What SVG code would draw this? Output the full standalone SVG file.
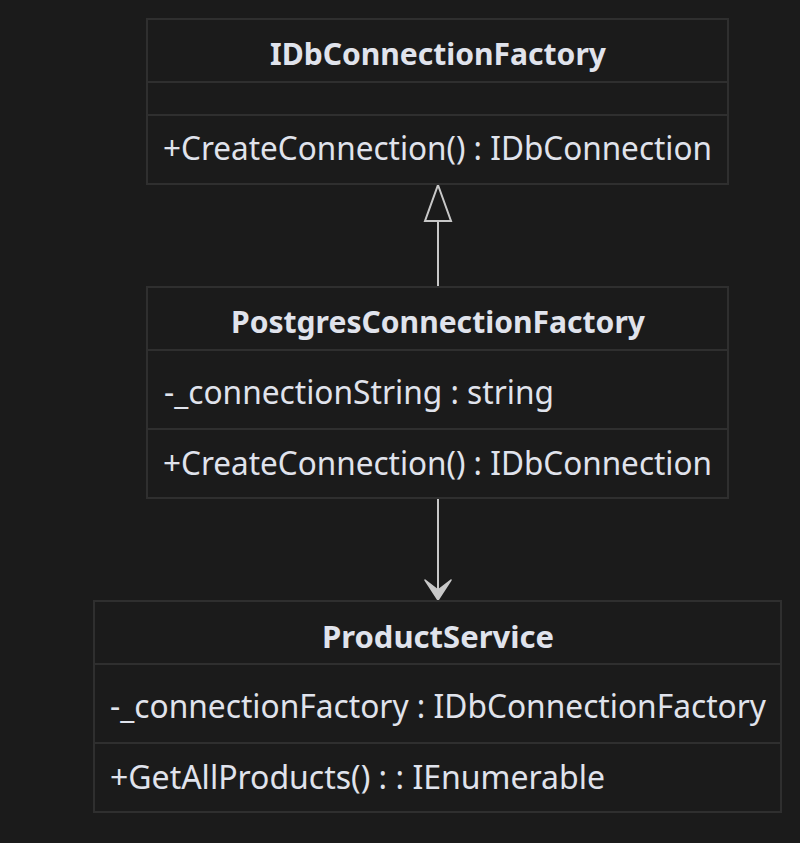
<svg xmlns="http://www.w3.org/2000/svg" width="800" height="843" viewBox="0 0 800 843">
<defs>
<style>
.box{fill:#1b1b1b;stroke:#2f2f2f;stroke-width:2}
.div{stroke:#2f2f2f;stroke-width:2}
.t{fill:#e0e3ec;font-family:"Noto Sans","Liberation Sans",sans-serif;font-size:32px}
.h{font-weight:bold;font-size:30px}
.edge{stroke:#c8c8c8;stroke-width:2;fill:none}
</style>
<marker id="tri" markerUnits="userSpaceOnUse" markerWidth="30" markerHeight="40" refX="13" refY="1" orient="auto-start-reverse" viewBox="0 0 26 40">
<path d="M13,1 L25,36 L1,36 Z" fill="#1b1b1b" stroke="#c8c8c8" stroke-width="2"/>
</marker>
</defs>
<rect width="800" height="843" fill="#1b1b1b"/>
<g id="connectors">
<line class="edge" x1="438" y1="287" x2="438" y2="221"/>
<path d="M438,185 L451,221 L425,221 Z" fill="#1b1b1b" stroke="#c8c8c8" stroke-width="2"/>
<line class="edge" x1="438" y1="498" x2="438" y2="598"/>
<path d="M425,580 L438,600 L451,580 L438,590 Z" fill="#c8c8c8" stroke="#c8c8c8" stroke-width="1.5" stroke-linejoin="round"/>
</g>
<g id="IDbConnectionFactory">
<rect class="box" x="147" y="19" width="581" height="165"/>
<line class="div" x1="147" y1="82" x2="728" y2="82"/>
<line class="div" x1="147" y1="115" x2="728" y2="115"/>
<text class="t h" x="438" y="65" text-anchor="middle" textLength="336" lengthAdjust="spacingAndGlyphs">IDbConnectionFactory</text>
<text class="t" x="163" y="160" textLength="549" lengthAdjust="spacingAndGlyphs">+CreateConnection() : IDbConnection</text>
</g>
<g id="PostgresConnectionFactory">
<rect class="box" x="147" y="287" width="581" height="211"/>
<line class="div" x1="147" y1="350" x2="728" y2="350"/>
<line class="div" x1="147" y1="429" x2="728" y2="429"/>
<text class="t h" x="438" y="333" text-anchor="middle" textLength="414" lengthAdjust="spacingAndGlyphs">PostgresConnectionFactory</text>
<text class="t" x="164" y="404" textLength="390" lengthAdjust="spacingAndGlyphs">-_connectionString : string</text>
<text class="t" x="163" y="475" textLength="549" lengthAdjust="spacingAndGlyphs">+CreateConnection() : IDbConnection</text>
</g>
<g id="ProductService">
<rect class="box" x="94" y="601" width="687" height="211"/>
<line class="div" x1="94" y1="664" x2="781" y2="664"/>
<line class="div" x1="94" y1="743" x2="781" y2="743"/>
<text class="t h" x="438" y="648" text-anchor="middle" textLength="232" lengthAdjust="spacingAndGlyphs">ProductService</text>
<text class="t" x="110" y="718" textLength="656" lengthAdjust="spacingAndGlyphs">-_connectionFactory : IDbConnectionFactory</text>
<text class="t" x="110" y="789" textLength="495" lengthAdjust="spacingAndGlyphs">+GetAllProducts() : : IEnumerable</text>
</g>
</svg>
